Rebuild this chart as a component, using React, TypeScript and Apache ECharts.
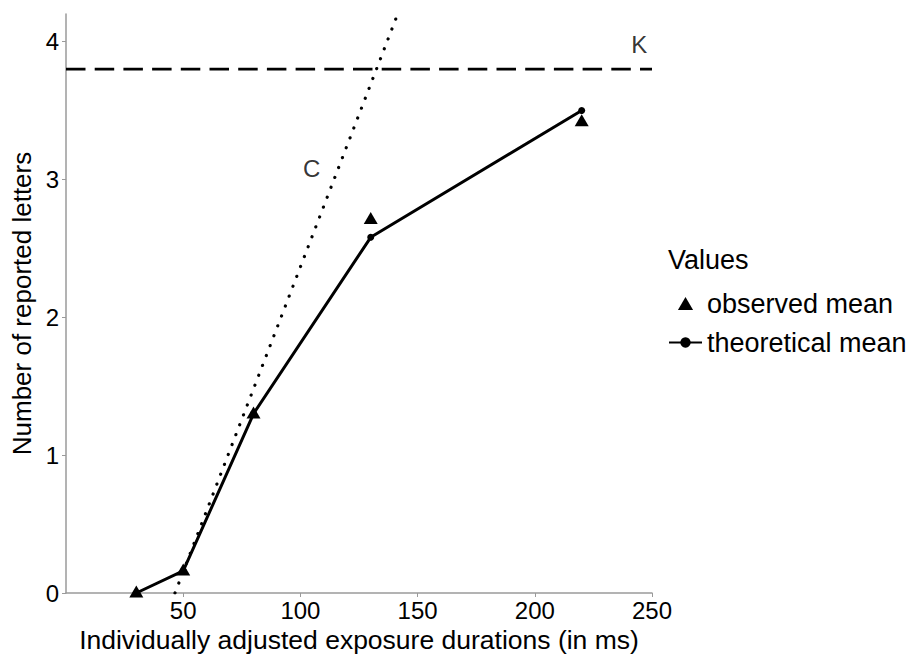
import React, { useEffect, useRef } from "react";
import * as echarts from "echarts";

// Data
const durations = [30, 50, 80, 130, 220];
const theoreticalMean = [0.0, 0.16, 1.3, 2.58, 3.5];
const observedMean = [0.01, 0.17, 1.31, 2.72, 3.43];
const kLine = [[0, 3.8], [250, 3.8]];
const cLine = [[46.5, 0], [141.5, 4.2]];
const xTicks = [50, 100, 150, 200, 250];
const yTicks = [0, 1, 2, 3, 4];
const kLabel = [[244.6, 3.98]];
const cLabel = [[104.8, 3.08]];

const FONT = "Liberation Sans, Arial, Helvetica, sans-serif";
const TEXT = "#000000";
const AXIS = "#9a9a9a";

export default function App() {
  const ref = useRef<HTMLDivElement>(null);
  useEffect(() => {
    if (!ref.current) return;
    const chart = echarts.init(ref.current, undefined, { renderer: "svg" });
    const option: any = {
      animation: false,
      backgroundColor: "#ffffff",
      textStyle: { fontFamily: FONT },
      grid: { left: 66, right: 256, top: 14, bottom: 64, containLabel: false, outerBoundsMode: "none" },
      xAxis: {
        type: "value",
        min: 0,
        max: 250,
        interval: 50,
        name: "Individually adjusted exposure durations (in ms)",
        nameLocation: "middle",
        nameGap: 33,
        nameTextStyle: { fontSize: 26.5, color: TEXT, fontFamily: FONT },
        splitLine: { show: false },
        axisLine: { show: true, lineStyle: { color: AXIS, width: 1.5 } },
        axisTick: { show: true, length: 4, lineStyle: { color: AXIS, width: 1 }, customValues: xTicks },
        axisLabel: { fontSize: 24, color: TEXT, margin: 5, fontFamily: FONT, customValues: xTicks },
      },
      yAxis: {
        type: "value",
        min: 0,
        max: 4.2,
        interval: 1,
        name: "Number of reported letters",
        nameLocation: "middle",
        nameGap: 30,
        nameTextStyle: { fontSize: 26, color: TEXT, fontFamily: FONT },
        splitLine: { show: false },
        axisLine: { show: true, lineStyle: { color: AXIS, width: 1.5 } },
        axisTick: { show: true, length: 4, lineStyle: { color: AXIS, width: 1 }, customValues: yTicks },
        axisLabel: { fontSize: 24, color: TEXT, margin: 7, fontFamily: FONT, customValues: yTicks },
      },
      legend: {
        orient: "vertical",
        left: 663,
        top: 285,
        itemWidth: 33,
        itemHeight: 13,
        itemGap: 12,
        symbolKeepAspect: true,
        data: [
          { name: "observed mean", icon: "path://M7,0L14,12L0,12Z" },
          { name: "theoretical mean" },
        ],
        textStyle: { fontSize: 27, color: TEXT, fontFamily: FONT },
      },
      graphic: [
        {
          type: "text",
          left: 668,
          top: 246,
          style: { text: "Values", fontSize: 27, fill: TEXT, fontFamily: FONT },
        },
      ],
      series: [
        {
          name: "K",
          type: "line",
          data: kLine,
          symbol: "none",
          lineStyle: { color: "#000", width: 2.8, type: [19.5, 9.2] },
          silent: true,
          z: 1,
        },
        {
          name: "C",
          type: "line",
          data: cLine,
          symbol: "none",
          lineStyle: { color: "#000", width: 3.2, type: [0.1, 10.5], cap: "round" },
          silent: true,
          z: 1,
        },
        {
          name: "theoretical mean",
          type: "line",
          data: durations.map((d, i) => [d, theoreticalMean[i]]),
          symbol: "circle",
          symbolSize: 7,
          itemStyle: { color: "#000", opacity: 1 },
          lineStyle: { color: "#000", width: 3 },
          z: 2,
        },
        {
          name: "observed mean",
          type: "scatter",
          data: durations.map((d, i) => [d, observedMean[i]]),
          symbol: "triangle",
          symbolSize: [14, 12],
          symbolKeepAspect: true,
          itemStyle: { color: "#000", opacity: 1 },
          z: 3,
        },
        {
          name: "labels",
          type: "scatter",
          data: [
            { value: kLabel[0], label: { formatter: "K" } },
            { value: cLabel[0], label: { formatter: "C" } },
          ],
          symbolSize: 0,
          label: { show: true, position: "inside", fontSize: 24, color: TEXT, fontFamily: FONT },
          silent: true,
          z: 3,
        },
      ],
    };
    chart.setOption(option);
    return () => chart.dispose();
  }, []);
  return (
    <div
      ref={ref}
      style={{ position: "fixed", left: 0, top: 0, width: 908, height: 657, background: "#fff" }}
    />
  );
}
